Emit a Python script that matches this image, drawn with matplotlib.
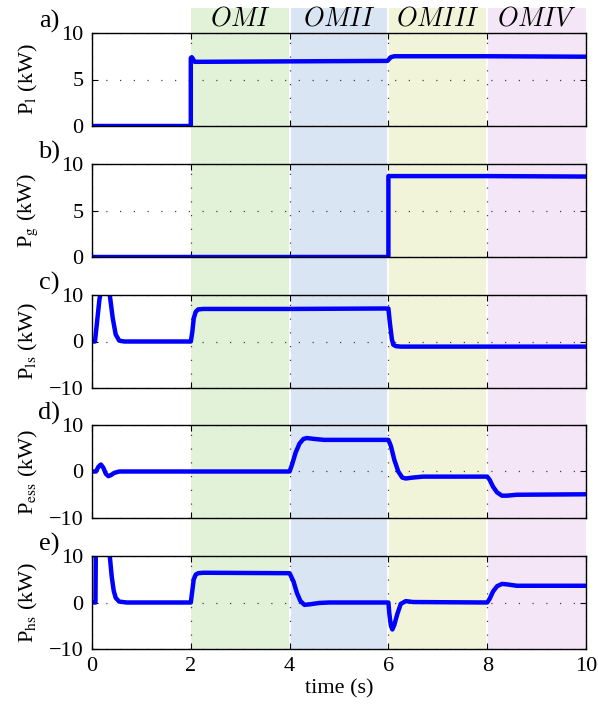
import matplotlib.pyplot as plt
from matplotlib.transforms import blended_transform_factory

plt.rcParams['font.family'] = 'Liberation Serif'
plt.rcParams['mathtext.fontset'] = 'stix'

# operating modes (shaded bands)
mode_names = ['$OMI$', '$OMII$', '$OMIII$', '$OMIV$']
mode_start = [2, 4, 6, 8]
mode_end = [4, 6, 8, 10]
mode_colors = ['#e2f2d8', '#dae5f3', '#f1f4d9', '#f4e6f7']

# a) load power
t_l = [0, 2.0, 2.0, 2.02, 2.08, 4, 5.98, 6.05, 6.12, 8, 10]
p_l = [0, 0, 7.3, 7.4, 6.9, 6.95, 7.0, 7.4, 7.5, 7.5, 7.45]

# b) grid power
t_g = [0, 6.0, 6.0, 8, 10]
p_g = [0, 0, 8.7, 8.7, 8.65]

# c) P_ls
t_ls = [0, 0.06, 0.1, 0.15, 0.2, 0.25, 0.3, 0.36, 0.42, 0.48, 0.55, 0.65,
        2.0, 2.03, 2.06, 2.1, 2.15, 2.25, 4, 6.0, 6.03, 6.07, 6.1, 6.15, 6.25, 8, 10]
p_ls = [0, 0, 4, 9, 12, 13, 12, 10, 5, 1.5, 0.2, 0,
        0, 2, 5, 6.4, 6.9, 7.0, 7.0, 7.1, 4, 0.5, -0.7, -1.0, -1.1, -1.1, -1.1]

# d) P_ess
t_ess = [0, 0.08, 0.13, 0.18, 0.23, 0.28, 0.33, 0.38, 0.45, 0.55,
         4.0, 4.05, 4.12, 4.2, 4.28, 4.35, 4.5, 4.7,
         6.0, 6.05, 6.12, 6.2, 6.28, 6.35, 6.5, 6.7,
         8.0, 8.05, 8.12, 8.2, 8.3, 8.4, 8.6, 10]
p_ess = [0, 0, 1.0, 1.5, 0.8, -0.5, -1.0, -0.8, -0.3, 0,
         0, 1.5, 4.0, 6.0, 7.0, 7.2, 7.0, 6.8,
         6.8, 5.5, 2.5, 0.0, -1.3, -1.5, -1.3, -1.1,
         -1.1, -1.8, -3.3, -4.5, -5.2, -5.2, -5.0, -4.9]

# e) P_hs
t_hs = [0, 0.07, 0.08, 0.09, 0.3, 0.36, 0.4, 0.44, 0.48, 0.55, 0.7,
        2.0, 2.03, 2.06, 2.1, 2.15, 2.25,
        4.0, 4.08, 4.15, 4.22, 4.3, 4.4, 4.6, 4.8,
        6.0, 6.02, 6.05, 6.08, 6.12, 6.18, 6.25, 6.35, 6.5,
        8.0, 8.05, 8.12, 8.2, 8.3, 8.4, 8.6, 10]
p_hs = [0, 0, 15, 15, 15, 10, 5.5, 2.5, 1.0, 0.2, 0,
        0, 2.5, 5.0, 6.0, 6.3, 6.4,
        6.3, 4.5, 2, 0.3, -0.5, -0.4, -0.1, 0,
        0, -2.5, -5.0, -5.8, -4.8, -2.5, -0.3, 0.3, 0.1,
        0, 0.8, 2.4, 3.5, 4.0, 3.9, 3.6, 3.6]

panels = [
    ('a)', r'P$_{\mathrm{l}}$ (kW)', t_l, p_l, (0, 10), [0, 5, 10]),
    ('b)', r'P$_{\mathrm{g}}$ (kW)', t_g, p_g, (0, 10), [0, 5, 10]),
    ('c)', r'P$_{\mathrm{ls}}$ (kW)', t_ls, p_ls, (-10, 10), [-10, 0, 10]),
    ('d)', r'P$_{\mathrm{ess}}$ (kW)', t_ess, p_ess, (-10, 10), [-10, 0, 10]),
    ('e)', r'P$_{\mathrm{hs}}$ (kW)', t_hs, p_hs, (-10, 10), [-10, 0, 10]),
]

fig = plt.figure(figsize=(5.98, 7.09), dpi=100)
left = 92 / 598
width = (586 - 92) / 598
height = 93 / 709
bottoms = [126, 257, 388, 518, 649]

# background axes for the shaded mode bands
bg = fig.add_axes([left, (709 - 650) / 709, width, (650 - 8) / 709], zorder=0)
bg.set_xlim(0, 10)
bg.set_ylim(0, 1)
bg.axis('off')
trans = blended_transform_factory(bg.transData, fig.transFigure)
for name, s, e, c in zip(mode_names, mode_start, mode_end, mode_colors):
    s2 = s + 0.02 if s > 2 else s
    e2 = e - 0.02 if e < 10 else e
    bg.axvspan(s2, e2, color=c, lw=0)
    bg.text((s + e) / 2, 0.974, name, transform=trans, ha='center', va='center',
            fontsize=19, math_fontfamily='cm')

axes = []
for i, (letter, ylabel, t, p, ylim, yticks) in enumerate(panels):
    ax = fig.add_axes([left, (709 - bottoms[i]) / 709, width, height], zorder=1)
    ax.set_facecolor('none')
    ax.plot(t, p, color='#0000ff', lw=3.2, solid_joinstyle='round')
    ax.set_xlim(0, 10)
    ax.set_ylim(*ylim)
    ax.set_xticks([0, 2, 4, 6, 8, 10])
    ax.set_yticks(yticks)
    ax.grid(True, color='#444444', linestyle=(0, (1, 10)), lw=0.9)
    ax.tick_params(direction='in', top=True, right=True, length=4, labelsize=16, pad=6)
    for sp in ax.spines.values():
        sp.set_linewidth(1.0)
    ax.set_ylabel(ylabel, fontsize=16)
    ax.yaxis.set_label_coords(-0.105, 0.5)
    ax.text(-0.087, 1.12, letter, transform=ax.transAxes, ha='center', va='center',
            fontsize=19)
    if i < 4:
        ax.tick_params(labelbottom=False)
    axes.append(ax)

axes[-1].set_xlabel('time (s)', fontsize=16, labelpad=2)

fig.savefig('out.png', dpi=100)
